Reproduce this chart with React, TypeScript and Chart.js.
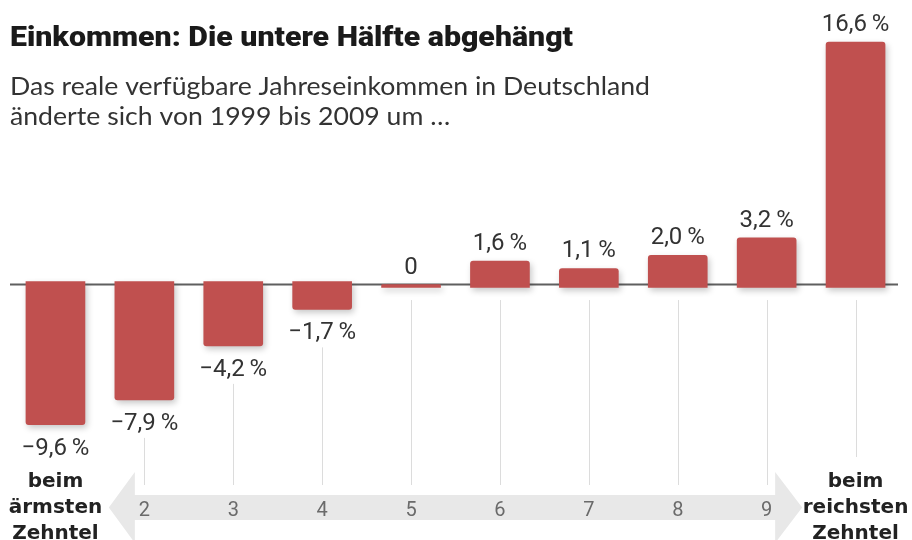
import React, { useEffect, useRef } from "react";
import { Chart, registerables } from "chart.js";

Chart.register(...registerables);

// ---- data ----
const categories = ["1", "2", "3", "4", "5", "6", "7", "8", "9", "10"];
const values = [-9.6, -7.9, -4.2, -1.7, 0, 1.6, 1.1, 2.0, 3.2, 16.6];
const bandLabels = ["", "2", "3", "4", "5", "6", "7", "8", "9", ""];
const titleText = "Einkommen: Die untere Hälfte abgehängt";
const subtitleLines = [
  "Das reale verfügbare Jahreseinkommen in Deutschland",
  "änderte sich von 1999 bis 2009 um …",
];
const leftLabel = ["beim", "ärmsten", "Zehntel"];
const rightLabel = ["beim", "reichsten", "Zehntel"];

const BAR_COLOR = "#c0504f";

function formatValue(v: number): string {
  if (v === 0) return "0";
  const s = Math.abs(v).toFixed(1).replace(".", ",");
  return (v < 0 ? "\u2212" : "") + s + "\u2009%";
}

function fillFit(ctx: CanvasRenderingContext2D, text: string, x: number, y: number, target: number) {
  const w = ctx.measureText(text).width;
  ctx.save();
  ctx.translate(x, y);
  ctx.scale(target / w, 1);
  ctx.fillText(text, 0, 0);
  ctx.restore();
}

const decorPlugin = {
  id: "decor",
  beforeDatasetsDraw(chart: any) {
    const ctx: CanvasRenderingContext2D = chart.ctx;
    const xs = chart.scales.x;
    const ys = chart.scales.y;
    const area = chart.chartArea;
    const zeroY = ys.getPixelForValue(0);
    ctx.save();
    // vertical guide lines
    ctx.strokeStyle = "#dcdcdc";
    ctx.lineWidth = 1;
    const n = values.length;
    values.forEach((v, i) => {
      const x = Math.round(xs.getPixelForValue(i)) + 0.5;
      let y0: number;
      if (v >= 0) y0 = zeroY + 15.5;
      else y0 = ys.getPixelForValue(v) + 30 + 8;
      const y1 = i === 0 || i === n - 1 ? 457 : 485;
      if (y1 > y0) {
        ctx.beginPath();
        ctx.moveTo(x, y0);
        ctx.lineTo(x, y1);
        ctx.stroke();
      }
    });
    // band arrow
    const bandTop = 495;
    const bandBot = 520;
    const midY = (bandTop + bandBot) / 2;
    const headTop = 472;
    const headBot = 543;
    const lTip = xs.getPixelForValue(1) - 35.5;
    const lBase = xs.getPixelForValue(1) - 9.5;
    const rBase = xs.getPixelForValue(8) + 8.5;
    const rTip = xs.getPixelForValue(8) + 35.5;
    ctx.fillStyle = "#e8e8e8";
    ctx.beginPath();
    ctx.moveTo(lTip, midY);
    ctx.lineTo(lBase, headTop);
    ctx.lineTo(lBase, bandTop);
    ctx.lineTo(rBase, bandTop);
    ctx.lineTo(rBase, headTop);
    ctx.lineTo(rTip, midY);
    ctx.lineTo(rBase, headBot);
    ctx.lineTo(rBase, bandBot);
    ctx.lineTo(lBase, bandBot);
    ctx.lineTo(lBase, headBot);
    ctx.closePath();
    ctx.fill();
    // band numbers
    ctx.fillStyle = "#6a6a6a";
    ctx.font = "20px Roboto";
    ctx.textAlign = "center";
    ctx.textBaseline = "alphabetic";
    bandLabels.forEach((t, i) => {
      if (t) ctx.fillText(t, xs.getPixelForValue(i), 516);
    });
    // baseline
    ctx.strokeStyle = "#5f5f5f";
    ctx.lineWidth = 2;
    ctx.beginPath();
    ctx.moveTo(area.left - 1, zeroY);
    ctx.lineTo(area.right - 2, zeroY);
    ctx.stroke();
    ctx.restore();
  },
  beforeDatasetDraw(chart: any) {
    const ctx: CanvasRenderingContext2D = chart.ctx;
    ctx.save();
    ctx.shadowColor = "rgba(0,0,0,0.22)";
    ctx.shadowBlur = 6;
    ctx.shadowOffsetX = 2;
    ctx.shadowOffsetY = 3;
  },
  afterDatasetDraw(chart: any) {
    chart.ctx.restore();
  },
  afterDatasetsDraw(chart: any) {
    const ctx: CanvasRenderingContext2D = chart.ctx;
    const xs = chart.scales.x;
    const ys = chart.scales.y;
    ctx.save();
    // value labels
    ctx.fillStyle = "#333333";
    ctx.font = "24px Roboto";
    ctx.textAlign = "center";
    ctx.textBaseline = "alphabetic";
    values.forEach((v, i) => {
      const x = xs.getPixelForValue(i);
      const yv = ys.getPixelForValue(v);
      const y = v >= 0 ? yv - 11 : yv + 30;
      ctx.fillText(formatValue(v), x, y);
    });
    // side labels
    ctx.fillStyle = "#222222";
    ctx.font = "bold 20px 'DejaVu Sans'";
    const bases = [487, 513, 539];
    leftLabel.forEach((t, k) => ctx.fillText(t, xs.getPixelForValue(0), bases[k]));
    rightLabel.forEach((t, k) => ctx.fillText(t, xs.getPixelForValue(values.length - 1), bases[k]));
    // title
    ctx.textAlign = "left";
    ctx.fillStyle = "#1a1a1a";
    ctx.font = "900 27px Roboto";
    fillFit(ctx, titleText, 10, 46, 563);
    // subtitle
    ctx.fillStyle = "#333333";
    ctx.font = "25px Lato";
    const w1 = ctx.measureText(subtitleLines[0]).width;
    const sx = 640 / w1;
    subtitleLines.forEach((t, k) => {
      ctx.save();
      ctx.translate(10, 95 + k * 30);
      ctx.scale(sx, 1);
      ctx.fillText(t, 0, 0);
      ctx.restore();
    });
    ctx.restore();
  },
};

export default function App() {
  const ref = useRef<HTMLCanvasElement | null>(null);
  useEffect(() => {
    if (!ref.current) return;
    const chart = new Chart(ref.current, {
      type: "bar",
      data: {
        labels: categories,
        datasets: [
          {
            data: values.map((v) => (v >= 0 ? v : null)),
            base: -0.2,
            backgroundColor: BAR_COLOR,
            borderRadius: 3,
            barThickness: 59,
            grouped: false,
          } as any,
          {
            data: values.map((v) => (v < 0 ? v : null)),
            base: 0.2,
            backgroundColor: BAR_COLOR,
            borderRadius: 3,
            barThickness: 59,
            grouped: false,
          } as any,
        ],
      },
      options: {
        animation: false,
        responsive: false,
        layout: { padding: { left: 11, right: 12, top: 29, bottom: 51 } },
        plugins: { legend: { display: false }, tooltip: { enabled: false }, title: { display: false } },
        scales: {
          x: { display: false, offset: true, grid: { display: false } },
          y: { display: false, min: -14, max: 17.5, grid: { display: false } },
        },
      },
      plugins: [decorPlugin],
    });
    return () => chart.destroy();
  }, []);
  return (
    <div style={{ position: "fixed", left: 0, top: 0, width: 912, height: 540, background: "#fff" }}>
      <canvas ref={ref} width={912} height={540} />
    </div>
  );
}
